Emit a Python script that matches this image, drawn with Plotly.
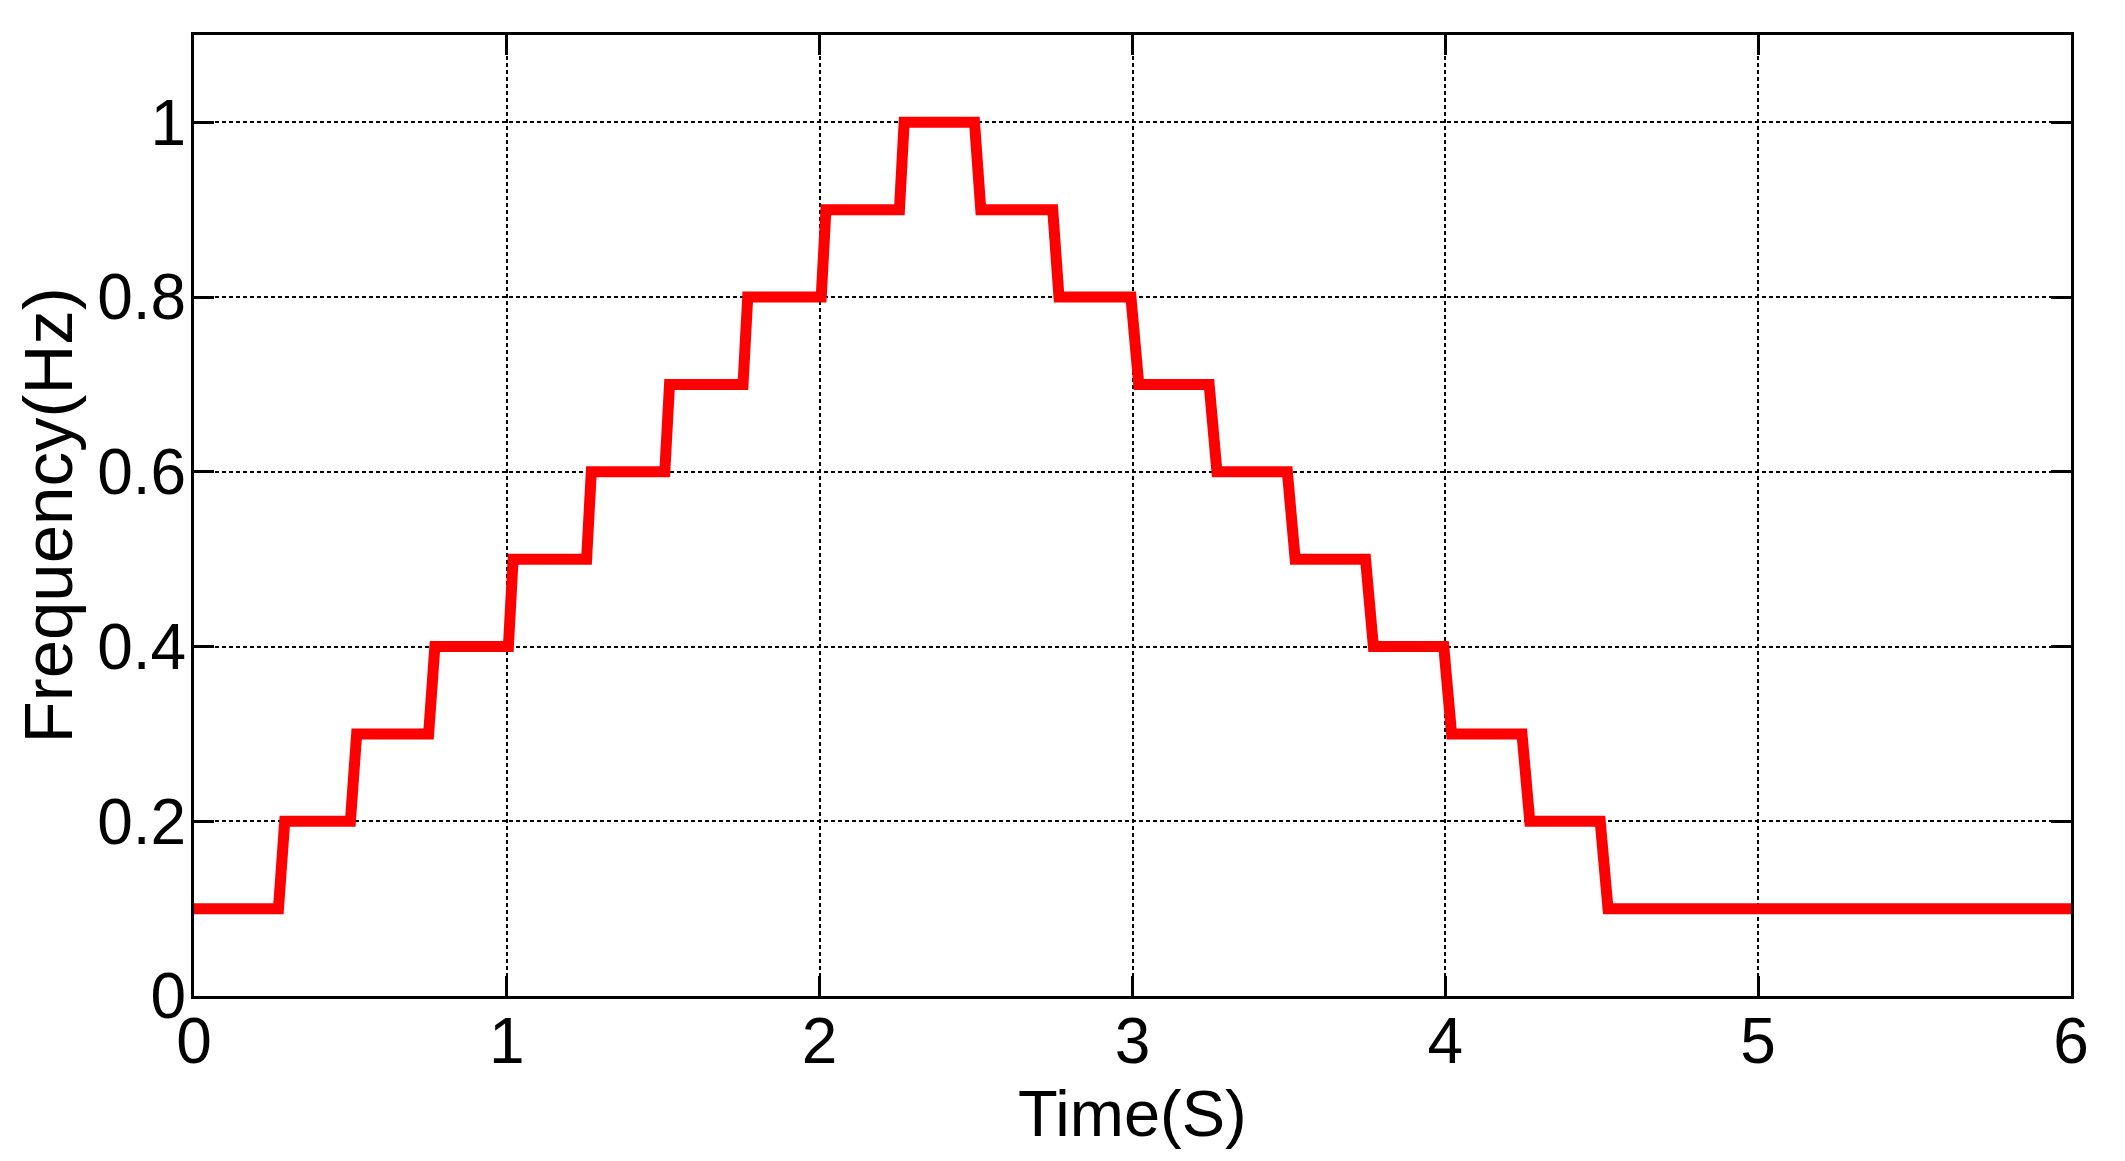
"""
Step profile: frequency vs time, MATLAB-like style
"""

import plotly.graph_objects as go

# breakpoints of the step profile (start / end of each ramp)
time_s = [
    0.0, 0.27, 0.29, 0.50, 0.52, 0.75, 0.77, 1.005, 1.02, 1.255, 1.27,
    1.505, 1.52, 1.755, 1.77, 2.005, 2.02, 2.255, 2.27,
    2.495, 2.515, 2.745, 2.765, 2.995, 3.02, 3.245, 3.27, 3.495, 3.52,
    3.745, 3.77, 3.995, 4.02, 4.245, 4.27, 4.495, 4.52, 6.0,
]
freq_hz = [
    0.1, 0.1, 0.2, 0.2, 0.3, 0.3, 0.4, 0.4, 0.5, 0.5, 0.6,
    0.6, 0.7, 0.7, 0.8, 0.8, 0.9, 0.9, 1.0,
    1.0, 0.9, 0.9, 0.8, 0.8, 0.7, 0.7, 0.6, 0.6, 0.5,
    0.5, 0.4, 0.4, 0.3, 0.3, 0.2, 0.2, 0.1, 0.1,
]

x_ticks = [0, 1, 2, 3, 4, 5, 6]
y_ticks = [0, 0.2, 0.4, 0.6, 0.8, 1]
y_labels = ['0', '0.2', '0.4', '0.6', '0.8', '1']

FONT = 'Liberation Sans, Arial, sans-serif'

# plot area in px (page body adds 8px offset)
M_L, M_R, M_T, M_B = 186, 62, 27, 173
PLOT_W = 2125 - M_L - M_R
PLOT_H = 1161 - M_T - M_B

fig = go.Figure()
fig.add_trace(go.Scatter(
    x=time_s,
    y=freq_hz,
    mode='lines',
    line=dict(color='#ff0000', width=11),
    showlegend=False,
    hovertemplate='%{x} s<br>%{y} Hz<extra></extra>'
))

axis_common = dict(
    automargin=False,
    showline=True,
    linecolor='black',
    linewidth=3,
    mirror='ticks',
    ticks='inside',
    ticklen=20,
    tickwidth=3,
    tickcolor='black',
    showgrid=True,
    gridcolor='black',
    gridwidth=2,
    griddash='4px,3px',
    zeroline=False,
    tickfont=dict(family=FONT, size=64, color='black'),
)

fig.update_layout(
    width=2125,
    height=1161,
    paper_bgcolor='white',
    plot_bgcolor='white',
    margin=dict(l=M_L, r=M_R, t=M_T, b=M_B),
    font=dict(family=FONT, color='black'),
    xaxis=dict(axis_common, range=[0, 6], tickvals=x_ticks, ticklabelstandoff=-13),
    yaxis=dict(axis_common, range=[0, 1.1], tickvals=y_ticks, ticktext=y_labels,
               ticklabelstandoff=-8),
)

# axis titles as annotations for exact placement
fig.add_annotation(
    text='Time(S)', xref='paper', yref='paper',
    x=0.5, y=-117 / PLOT_H, xanchor='center', yanchor='middle',
    showarrow=False, font=dict(family=FONT, size=65, color='black')
)
fig.add_annotation(
    text='Frequency(Hz)', xref='paper', yref='paper',
    x=-(M_L - 40) / PLOT_W, y=0.5, xanchor='center', yanchor='middle',
    textangle=-90, showarrow=False, font=dict(family=FONT, size=69, color='black')
)

fig.write_html("out.html")
